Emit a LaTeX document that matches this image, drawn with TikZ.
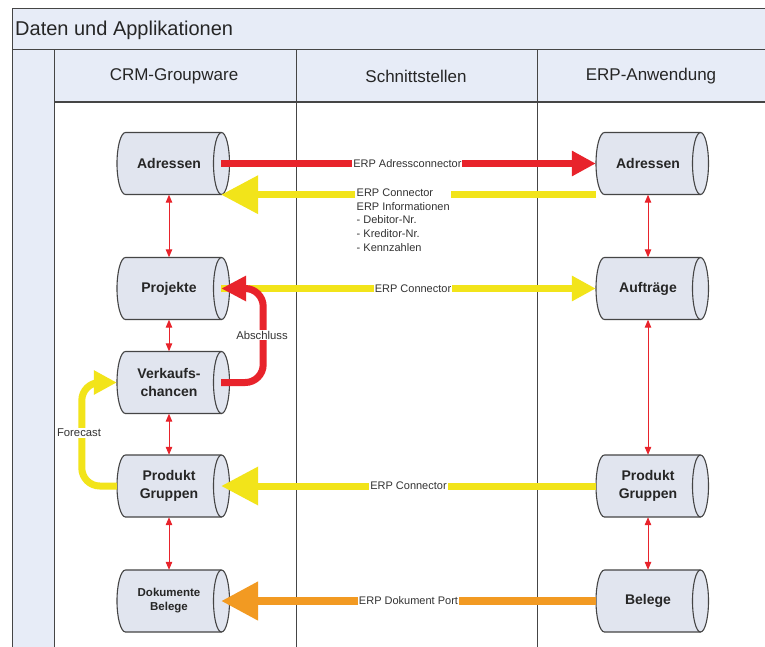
\documentclass[tikz,border=0pt]{standalone}
\usepackage{fontspec}
\setmainfont{Liberation Sans}
\usetikzlibrary{arrows.meta}
\definecolor{hdrfill}{HTML}{E7ECF7}
\definecolor{cylfillc}{HTML}{E1E5EF}
\definecolor{framec}{HTML}{454545}
\definecolor{redc}{HTML}{E8232B}
\definecolor{yellowc}{HTML}{F2E41A}
\definecolor{orangec}{HTML}{F29A22}
\newcommand\cylnode[5][]{%
  \path[cylshape] ({#3-43.5},{#4-31}) -- ({#3+52.5},{#4-31})
    arc[start angle=90,end angle=-90,x radius=8pt,y radius=31pt]
    -- ({#3-43.5},{#4+31})
    arc[start angle=-90,end angle=-270,x radius=8.5pt,y radius=31pt] -- cycle;
  \draw[cylline] ({#3+52.5},{#4+31})
    arc[start angle=-90,end angle=-270,x radius=8pt,y radius=31pt];
  \node[cyltext,#1] (#2) at (#3,#4) {#5};
}
\tikzset{
  cylshape/.style={fill=cylfillc, draw=framec, line width=1.1pt},
  cylline/.style={draw=framec, line width=1.1pt},
  cyltext/.style={font=\bfseries\fontsize{14}{18.5}\selectfont, align=center,
    inner sep=0pt, minimum width=104pt, minimum height=62pt, text=black!85},
  smalltxt/.style={font=\bfseries\fontsize{11.5}{14}\selectfont},
  lanes/.style={draw=framec, line width=0.9pt},
  hdr/.style={font=\fontsize{17}{20}\selectfont, text=black!85},
  lbl/.style={font=\fontsize{11}{13.8}\selectfont, fill=white, inner sep=1pt, text=black!80},
  sidelbl/.style={font=\fontsize{11.3}{13}\selectfont, fill=white, inner sep=1pt, text=black!80},
  thin/.style={draw=redc, line width=1pt, {Triangle[length=8pt,width=6.5pt]}-{Triangle[length=8pt,width=6.5pt]}},
  thickred/.style={draw=redc, line width=7pt},
  thickyel/.style={draw=yellowc, line width=7pt},
  thickora/.style={draw=orangec, line width=8pt},
  smallhead/.style={-{Triangle[length=24pt,width=24pt]}},
  bighead/.style={-{Triangle[length=37pt,width=37pt]}},
}
\begin{document}
\begin{tikzpicture}[x=1pt,y=-1pt]
\useasboundingbox (0,0) rectangle (765,646);
\clip (0,0) rectangle (765,646);
% frame
\fill[white] (0,0) rectangle (765,646);
\fill[hdrfill] (12,8) rectangle (780,49);
\fill[hdrfill] (12,49) rectangle (54,700);
\fill[hdrfill] (54,49) rectangle (780,102);
\draw[lanes] (12,700) -- (12,8) -- (780,8);
\draw[lanes] (12,49) -- (780,49);
\draw[lanes] (54,49) -- (54,700);
\draw[lanes] (296,49) -- (296,700);
\draw[lanes] (537,49) -- (537,700);
\draw[draw=framec, line width=1.6pt] (54,102) -- (780,102);
\node[font=\fontsize{20}{24}\selectfont, anchor=west, inner sep=0pt, text=black!85] (title) at (15,30) {Daten und Applikationen};
\node[hdr] (h1) at (174,76) {CRM-Groupware};
\node[hdr] (h2) at (416,76) {Schnittstellen};
\node[hdr] (h3) at (651,76) {ERP-Anwendung};
% nodes
\cylnode{ladr}{169}{163.5}{Adressen}
\cylnode{lproj}{169}{288.5}{Projekte}
\cylnode{lverk}{169}{382.5}{Verkaufs-\\chancen}
\cylnode{lprod}{169}{486}{Produkt\\Gruppen}
\cylnode[smalltxt]{ldok}{169}{601}{Dokumente\\Belege}
\cylnode{radr}{648}{163.5}{Adressen}
\cylnode{rauf}{648}{288.5}{Aufträge}
\cylnode{rprod}{648}{486}{Produkt\\Gruppen}
\cylnode{rbel}{648}{601}{Belege}
% thin red double arrows
\draw[thin] (ladr.south) -- (lproj.north);
\draw[thin] (lproj.south) -- (lverk.north);
\draw[thin] (lverk.south) -- (lprod.north);
\draw[thin] (lprod.south) -- (ldok.north);
\draw[thin] (radr.south) -- (rauf.north);
\draw[thin] (rauf.south) -- (rprod.north);
\draw[thin] (rprod.south) -- (rbel.north);
% thick connectors
\draw[thickred, smallhead] (ladr.east) -- node[lbl, pos=0.497] {ERP Adressconnector} (radr.west);
\draw[thickyel, bighead] (radr.south west) -- (ladr.south east);
\node[lbl, anchor=north west, align=left, inner sep=1.5pt] (info) at (355,187) {ERP Connector\\ERP Informationen\\- Debitor-Nr.\\- Kreditor-Nr.\\- Kennzahlen};
\draw[thickyel, smallhead] (lproj.east) -- node[lbl, pos=0.512] {ERP Connector} (rauf.west);
\draw[thickred, rounded corners=18pt, -{Triangle[length=25pt,width=24pt]}] (lverk.east) -| ([xshift=42pt]lproj.east) -- (lproj.east);
\node[sidelbl] (absch) at (262,335) {Abschluss};
\draw[thickyel, rounded corners=18pt, -{Triangle[length=23pt,width=23pt]}] (lprod.west) -| ([xshift=-35pt]lverk.west) -- (lverk.west);
\node[sidelbl] (fore) at (79,433) {Forecast};
\draw[thickyel, bighead] (rprod.west) -- node[lbl, pos=0.5] {ERP Connector} (lprod.east);
\draw[thickora, bighead] (rbel.west) -- node[lbl, pos=0.5] {ERP Dokument Port} (ldok.east);
\end{tikzpicture}
\end{document}
